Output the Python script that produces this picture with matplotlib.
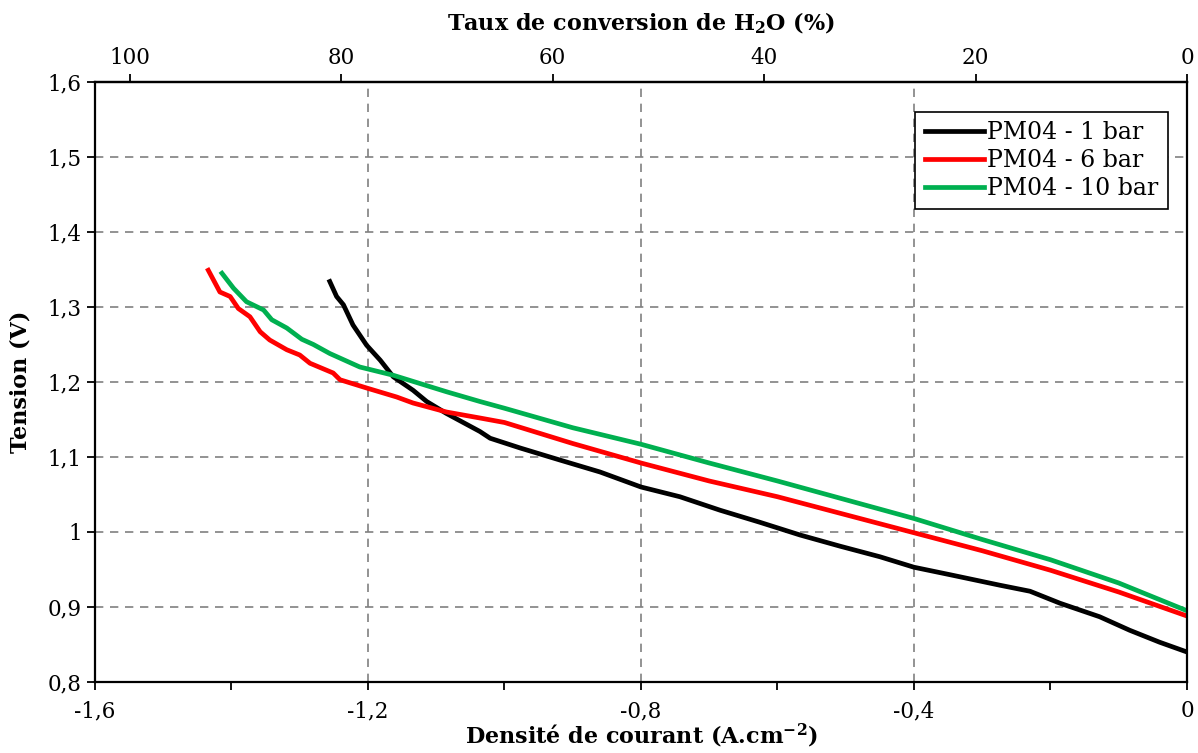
import matplotlib
matplotlib.use('Agg')
import matplotlib.pyplot as plt
from matplotlib.ticker import MultipleLocator, FuncFormatter
import numpy as np

plt.rcParams['font.family'] = 'DejaVu Serif'
plt.rcParams['mathtext.fontset'] = 'dejavuserif'

# Courbes de polarisation (densité de courant A/cm2, tension V)
j_1bar = [-1.256, -1.246, -1.236, -1.222, -1.202, -1.182, -1.163, -1.134, -1.114,
          -1.085, -1.036, -1.021, -0.977, -0.919, -0.860, -0.800, -0.743, -0.684,
          -0.626, -0.567, -0.508, -0.450, -0.400, -0.347, -0.274, -0.230, -0.186,
          -0.128, -0.084, -0.040, 0.0]
u_1bar = [1.334, 1.314, 1.303, 1.276, 1.249, 1.229, 1.207, 1.189, 1.174,
          1.158, 1.134, 1.125, 1.112, 1.096, 1.080, 1.060, 1.047, 1.029,
          1.013, 0.996, 0.981, 0.967, 0.953, 0.943, 0.929, 0.921, 0.905,
          0.887, 0.869, 0.853, 0.840]

j_6bar = [-1.434, -1.417, -1.402, -1.390, -1.373, -1.358, -1.344, -1.319, -1.300,
          -1.285, -1.251, -1.241, -1.202, -1.158, -1.134, -1.085, -1.036, -1.000,
          -0.900, -0.800, -0.700, -0.600, -0.500, -0.400, -0.300, -0.200, -0.100, 0.0]
u_6bar = [1.349, 1.320, 1.314, 1.298, 1.287, 1.267, 1.256, 1.243, 1.236,
          1.225, 1.212, 1.203, 1.192, 1.180, 1.172, 1.160, 1.152, 1.146,
          1.118, 1.092, 1.068, 1.047, 1.023, 0.999, 0.975, 0.949, 0.920, 0.888]

j_10bar = [-1.414, -1.397, -1.378, -1.353, -1.341, -1.319, -1.297, -1.280, -1.256,
           -1.212, -1.163, -1.124, -1.085, -1.036, -1.000, -0.900, -0.800, -0.700,
           -0.600, -0.500, -0.400, -0.300, -0.200, -0.100, 0.0]
u_10bar = [1.345, 1.325, 1.307, 1.296, 1.283, 1.272, 1.257, 1.250, 1.238,
           1.220, 1.209, 1.198, 1.187, 1.174, 1.165, 1.139, 1.117, 1.092,
           1.068, 1.043, 1.018, 0.990, 0.963, 0.932, 0.895]

# densité de courant correspondant à 100 % de conversion
j_100 = -1.549


def virgule(v, pos):
    return '{:g}'.format(round(v, 6)).replace('.', ',')


fig = plt.figure(figsize=(11.98, 7.53), dpi=100)
ax = fig.add_axes([0.0793, 0.0943, 0.9115, 0.7968])

ax.plot(j_1bar, u_1bar, color='black', lw=3.4, label='PM04 - 1 bar')
ax.plot(j_6bar, u_6bar, color='#ff0000', lw=3.4, label='PM04 - 6 bar')
ax.plot(j_10bar, u_10bar, color='#00b050', lw=3.4, label='PM04 - 10 bar')

ax.set_xlim(-1.6, 0)
ax.set_ylim(0.8, 1.6)
ax.xaxis.set_major_locator(MultipleLocator(0.4))
ax.xaxis.set_minor_locator(MultipleLocator(0.2))
ax.yaxis.set_major_locator(MultipleLocator(0.1))
ax.xaxis.set_major_formatter(FuncFormatter(virgule))
ax.yaxis.set_major_formatter(FuncFormatter(virgule))
ax.tick_params(axis='both', which='major', labelsize=15.5, length=6, width=1.3)
ax.tick_params(axis='x', which='minor', length=6, width=1.3)
ax.tick_params(axis='x', pad=7)

for s in ax.spines.values():
    s.set_linewidth(1.6)

ax.grid(True, which='major', linestyle=(0, (5, 4)), color='#808080', lw=1.2)

ax.set_xlabel('Densité de courant (A.cm$^{\\mathbf{-2}}$)', fontsize=16,
              fontweight='bold', labelpad=0)
ax.set_ylabel('Tension (V)', fontsize=16, fontweight='bold', labelpad=12)

sec = ax.secondary_xaxis('top', functions=(lambda x: x / j_100 * 100,
                                           lambda c: c * j_100 / 100))
sec.set_xticks([0, 20, 40, 60, 80, 100])
sec.tick_params(labelsize=15.5, length=6, width=1.3)
sec.spines['top'].set_linewidth(1.6)
sec.set_xlabel('Taux de conversion de H$_{\\mathbf{2}}$O (%)', fontsize=16,
               fontweight='bold', labelpad=12)

leg = ax.legend(loc='upper right', fontsize=17, frameon=True, fancybox=False,
                edgecolor='black', framealpha=1, handlelength=2.5,
                handletextpad=0.15, borderpad=0.4, labelspacing=0.2,
                borderaxespad=0, bbox_to_anchor=(0.9826, 0.95))
leg.get_frame().set_linewidth(1.2)

fig.savefig('out.png', dpi=100)
